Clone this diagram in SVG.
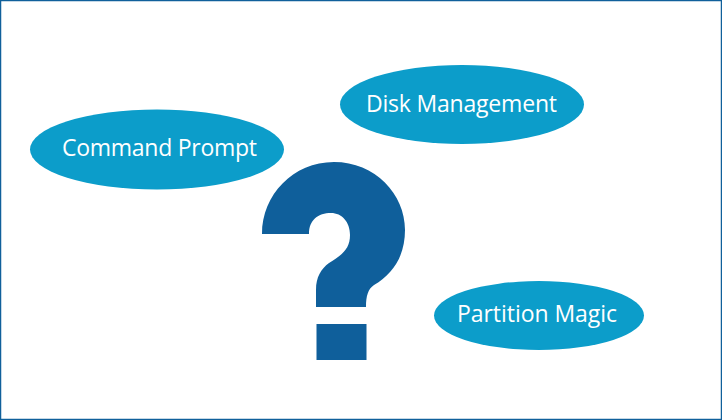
<svg xmlns="http://www.w3.org/2000/svg" width="722" height="420" viewBox="0 0 722 420">
<style>
.n{fill:#0c9dca}
.t{fill:#fff;font-family:"Open Sans","Noto Sans","DejaVu Sans",sans-serif;font-size:23px;font-weight:400;text-anchor:middle}
</style>
<rect x="0.5" y="0.5" width="721" height="419" fill="#fff" stroke="#10609b" stroke-width="1.5"/>
<g id="question-mark"><path fill="#0f5f9b" d="M262 234C262 195 293 162 334 162C375 162 405 194 405 230C405 256 393 274 374 285C368 289 366 296 366 307L316 307L316 290C316 277 321 269 329 263C342 255 350 249 350 235C350 222 342 213 331 213C318 213 309 220 309 234ZM316.500 324H366.500V360H316.500Z"/></g>
<g id="command-prompt"><ellipse class="n" cx="157" cy="149.500" rx="127" ry="40"/><text class="t" x="159.500" y="156" textLength="195">Command Prompt</text></g>
<g id="disk-management"><ellipse class="n" cx="462" cy="104.500" rx="122" ry="39.500"/><text class="t" x="461.500" y="112" textLength="191">Disk Management</text></g>
<g id="partition-magic"><ellipse class="n" cx="539" cy="315.500" rx="105" ry="34.500"/><text class="t" x="537" y="322" textLength="160">Partition Magic</text></g>
<g id="connectors"/>
</svg>
